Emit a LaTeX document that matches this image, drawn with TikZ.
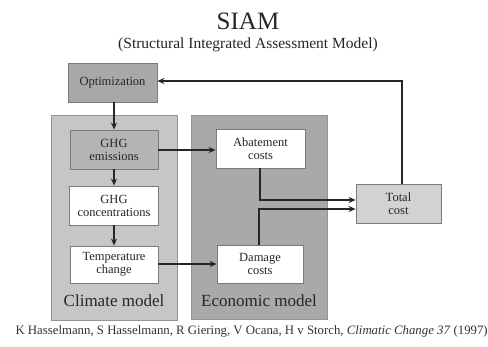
\documentclass[tikz,border=0pt]{standalone}
\usepackage{fontspec}
\setmainfont{Liberation Serif}
\usetikzlibrary{arrows.meta}
\definecolor{optfill}{HTML}{A8A8A8}
\definecolor{climfill}{HTML}{C6C6C6}
\definecolor{econfill}{HTML}{A9A9A9}
\definecolor{totfill}{HTML}{D2D2D2}
\definecolor{emfill}{HTML}{B4B4B4}
\definecolor{edge}{HTML}{7A7A7A}
\tikzset{
  box/.style={draw=edge, line width=0.8pt, minimum width=88pt, minimum height=39pt,
     inner sep=1pt, align=center, font=\fontsize{12.5}{13}\selectfont, text=black!85},
  whitebox/.style={box, fill=white},
  graybox/.style={box, fill=optfill},
  panel/.style={draw=edge!80, line width=0.8pt, anchor=north west, inner sep=0pt},
  conn/.style={line width=1.4pt, black!85, -{Stealth[length=7pt,width=6pt]}},
  model/.style={font=\fontsize{17}{18}\selectfont, text=black!85}
}
\begin{document}
\begin{tikzpicture}[x=1pt,y=-1pt]
\useasboundingbox (0,0) rectangle (488,347);
\fill[white] (0,0) rectangle (488,347);
\node[font=\fontsize{25}{27}\selectfont, text=black!85] (title) at (248,21) {SIAM};
\node[font=\fontsize{15.5}{17}\selectfont, text=black!85] (sub) at (248,45) {(Structural Integrated Assessment Model)};
% panels
\node[panel, fill=climfill, minimum width=126pt, minimum height=205pt] (clim) at (51,115) {};
\node[panel, fill=econfill, minimum width=136pt, minimum height=204pt] (econ) at (191,115) {};
\node[model] (climlab) at (114,301) {Climate model};
\node[model] (econlab) at (259,301) {Economic model};
% boxes
\node[graybox, minimum width=89pt] (opt) at (112.5,82.5) {Optimization};
\node[box, fill=emfill] (ghgem) at (114,149.5) {GHG\\emissions};
\node[whitebox, minimum width=89pt] (ghgcon) at (114,205.5) {GHG\\concentrations};
\node[whitebox, minimum height=37pt] (temp) at (114,264.5) {Temperature\\change};
\node[whitebox, minimum width=89pt] (abat) at (260.5,148.5) {Abatement\\costs};
\node[whitebox, minimum width=86pt, minimum height=38pt] (dam) at (260,264) {Damage\\costs};
\node[box, fill=totfill, minimum width=85pt] (tot) at (398.5,204) {Total\\cost};
% connectors
\draw[conn] (opt.south -| ghgem.north) -- (ghgem.north);
\draw[conn] (ghgem) -- (ghgcon);
\draw[conn] (ghgcon) -- (temp);
\draw[conn] (ghgem.east |- 0,150) -- (abat.west |- 0,150);
\draw[conn] (temp.east |- 0,264) -- (dam.west |- 0,264);
\draw[conn] (abat.south -| 260,0) |- (tot.west |- 0,200);
\draw[conn] (dam.north -| 259,0) |- (tot.west |- 0,209);
\draw[conn] (tot.north -| 402,0) |- (opt.east |- 0,81);
% footer
\node[font=\fontsize{12.8}{13}\selectfont, text=black!80, anchor=west] (foot) at (12,331)
 {K Hasselmann, S Hasselmann, R Giering, V Ocana, H v Storch, \textit{Climatic Change 37} (1997)};
\end{tikzpicture}
\end{document}
